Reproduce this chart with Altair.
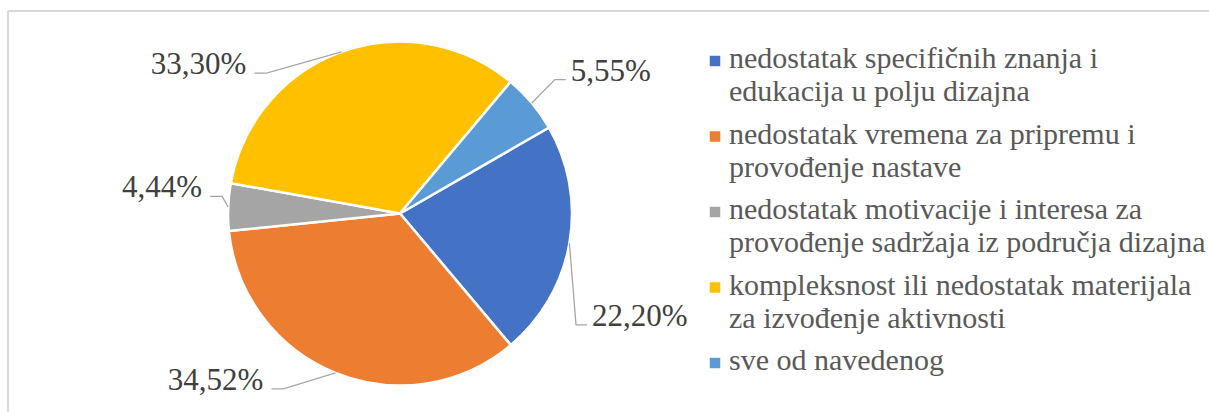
import math
import altair as alt
import pandas as pd

# ---------------- data ----------------
categories = [
    "nedostatak specifičnih znanja i edukacija u polju dizajna",
    "nedostatak vremena za pripremu i provođenje nastave",
    "nedostatak motivacije i interesa za provođenje sadržaja iz područja dizajna",
    "kompleksnost ili nedostatak materijala za izvođenje aktivnosti",
    "sve od navedenog",
]
values = [22.20, 34.52, 4.44, 33.30, 5.55]
value_labels = ["22,20%", "34,52%", "4,44%", "33,30%", "5,55%"]
legend_lines = [
    ["nedostatak specifičnih znanja i", "edukacija u polju dizajna"],
    ["nedostatak vremena za pripremu i", "provođenje nastave"],
    ["nedostatak motivacije i interesa za", "provođenje sadržaja iz područja dizajna"],
    ["kompleksnost ili nedostatak materijala", "za izvođenje aktivnosti"],
    ["sve od navedenog"],
]
colors = ["#4472C4", "#ED7D31", "#A5A5A5", "#FFC000", "#5B9BD5"]

# ---------------- layout ----------------
W, H = 1209, 412
CX, CY, R = 400, 213.5, 172
START = math.radians(60)
# label offset from the slice's mid-angle edge point, and text alignment
label_offsets = [(22.6, 82.6, "left"), (-72, 17, "right"), (-26, -9.6, "right"),
                 (-95, 22.4, "right"), (39, -22.4, "left")]
SERIF = "Liberation Serif"
LEG_X_SYM, LEG_X_TXT, LEG_Y0, LEG_STEP, LEG_LINE = 715, 729, 68, 75.5, 33

# ---------------- derived tables ----------------
pie_df = pd.DataFrame({"cat": categories, "value": values, "idx": range(len(values))})

total = sum(values)
label_rows, leader_rows = [], []
cum = 0.0
for i, v in enumerate(values):
    a = START + 2 * math.pi * (cum + v / 2) / total
    cum += v
    ex, ey = CX + R * math.sin(a), CY - R * math.cos(a)
    dx, dy, al = label_offsets[i]
    lx, ly = ex + dx, ey + dy
    label_rows.append({"cat": categories[i], "txt": value_labels[i], "x": lx, "y": ly, "align": al})
    if al == "left":
        end_x, elbow_x = lx - 5, lx - 16
    else:
        end_x, elbow_x = lx + 8, lx + 20
    for s, (px_, py_) in enumerate([(ex, ey), (elbow_x, ly - 1), (end_x, ly - 1)]):
        leader_rows.append({"cat": categories[i], "step": s, "x": px_, "y": py_})
label_df = pd.DataFrame(label_rows)
leader_df = pd.DataFrame(leader_rows)

sym_rows, leg_rows = [], []
for i, lines in enumerate(legend_lines):
    y0 = LEG_Y0 + i * LEG_STEP
    sym_rows.append({"cat": categories[i], "x": LEG_X_SYM, "y": y0 - 7})
    for j, t in enumerate(lines):
        leg_rows.append({"txt": t, "x": LEG_X_TXT, "y": y0 + j * LEG_LINE})
sym_df = pd.DataFrame(sym_rows)
leg_df = pd.DataFrame(leg_rows)

color = alt.Color("cat:N", scale=alt.Scale(domain=categories, range=colors), legend=None)
px = lambda f: alt.X(f + ":Q", scale=None, axis=None)
py = lambda f: alt.Y(f + ":Q", scale=None, axis=None)

border_top = alt.Chart(pie_df).mark_rule(color="#D9D9D9", strokeWidth=1.5).encode(
    x=alt.value(8), x2=alt.value(W), y=alt.value(11))
border_left = alt.Chart(pie_df).mark_rule(color="#D9D9D9", strokeWidth=1.5).encode(
    x=alt.value(8), y=alt.value(11), y2=alt.value(H))

pie = alt.Chart(pie_df).mark_arc(outerRadius=R, stroke="white", strokeWidth=2.5).encode(
    theta=alt.Theta("value:Q", stack=True,
                    scale=alt.Scale(range=[START, START + 2 * math.pi])),
    color=color,
    order=alt.Order("idx:Q", sort="ascending"),
    x=alt.value(CX), y=alt.value(CY),
)

leaders = alt.Chart(leader_df).mark_line(color="#A6A6A6", strokeWidth=1.3).encode(
    x=px("x"), y=py("y"), detail="cat:N", order="step:Q")

labels_left = alt.Chart(label_df[label_df["align"] == "left"]).mark_text(
    align="left", baseline="alphabetic", font=SERIF, fontSize=31, color="#404040").encode(
    x=px("x"), y=py("y"), text="txt:N")
labels_right = alt.Chart(label_df[label_df["align"] == "right"]).mark_text(
    align="right", baseline="alphabetic", font=SERIF, fontSize=31, color="#404040").encode(
    x=px("x"), y=py("y"), text="txt:N")

leg_sym = alt.Chart(sym_df).mark_square(size=110, opacity=1).encode(
    x=px("x"), y=py("y"), color=color)
leg_txt = alt.Chart(leg_df).mark_text(
    align="left", baseline="alphabetic", font=SERIF, fontSize=30, color="#595959").encode(
    x=px("x"), y=py("y"), text="txt:N")

chart = alt.layer(border_top, border_left, pie, leaders, labels_left, labels_right,
                  leg_sym, leg_txt).properties(
    width=W, height=H, padding=0, autosize="none", background="white"
).configure_view(stroke=None)

chart.save("out.html", embed_options={"renderer": "svg", "actions": False})
